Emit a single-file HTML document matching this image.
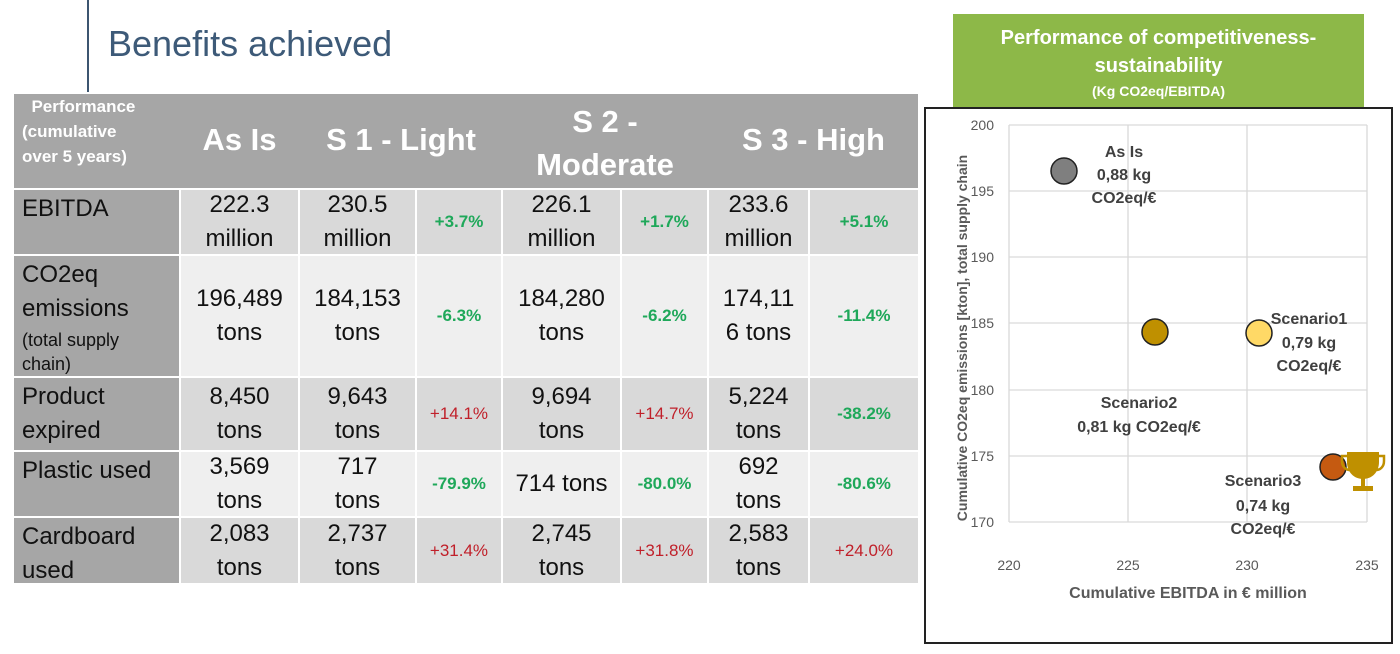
<!DOCTYPE html>
<html><head><meta charset="utf-8"><style>
body{margin:0;width:1400px;height:654px;background:#fff;position:relative;overflow:hidden;font-family:"Liberation Sans",Arial,sans-serif}
.a{position:absolute}
#grid{position:absolute;left:14px;top:190px;display:grid;grid-template-columns:165px 117px 115px 84px 117px 85px 99px 108px;grid-template-rows:64px 120px 72px 64px 65px;gap:2px;background:#fff}
#grid div{display:flex;align-items:center;justify-content:center;text-align:center;font-size:24px;line-height:34px;color:#111}
#grid div.l{display:block;background:#a6a6a6;text-align:left;padding:2px 0 0 8px}
.d{background:#d9d9d9}.e{background:#efefef}
#grid .g{color:#1fa85a;font-weight:bold;font-size:17px}
#grid .r{color:#c0202a;font-size:17px}
.h{color:#fff;font-weight:bold;font-size:31px;text-align:center}
</style></head><body>
<div class="a" style="left:87px;top:0;width:2px;height:92px;background:#3c5570"></div>
<div class="a" style="left:108px;top:23px;font-size:36px;color:#3d5a78">Benefits achieved</div>
<div class="a" style="left:14px;top:94px;width:904px;height:94px;background:#a6a6a6"></div>
<div class="a" style="left:22px;top:94px;color:#fff;font-weight:bold;font-size:17px;line-height:25px">&nbsp;&nbsp;Performance<br>(cumulative<br>over 5 years)</div>
<div class="a h" style="left:181px;top:122px;width:117px">As Is</div>
<div class="a h" style="left:300px;top:122px;width:202px">S 1 - Light</div>
<div class="a h" style="left:503px;top:100px;width:204px;line-height:43px">S 2 -<br>Moderate</div>
<div class="a h" style="left:709px;top:122px;width:209px">S 3 - High</div>
<div id="grid">
<div class="l">EBITDA</div><div class="d">222.3<br>million</div><div class="d">230.5<br>million</div><div class="d g">+3.7%</div><div class="d">226.1<br>million</div><div class="d g">+1.7%</div><div class="d">233.6<br>million</div><div class="d g">+5.1%</div>
<div class="l">CO2eq<br>emissions<span style="display:block;font-size:18px;line-height:24px;margin-top:2px">(total supply<br>chain)</span></div><div class="e">196,489<br>tons</div><div class="e">184,153<br>tons</div><div class="e g">-6.3%</div><div class="e">184,280<br>tons</div><div class="e g">-6.2%</div><div class="e">174,11<br>6 tons</div><div class="e g">-11.4%</div>
<div class="l">Product<br>expired</div><div class="d">8,450<br>tons</div><div class="d">9,643<br>tons</div><div class="d r">+14.1%</div><div class="d">9,694<br>tons</div><div class="d r">+14.7%</div><div class="d">5,224<br>tons</div><div class="d g">-38.2%</div>
<div class="l">Plastic used</div><div class="e">3,569<br>tons</div><div class="e">717<br>tons</div><div class="e g">-79.9%</div><div class="e">714 tons</div><div class="e g">-80.0%</div><div class="e">692<br>tons</div><div class="e g">-80.6%</div>
<div class="l">Cardboard<br>used</div><div class="d">2,083<br>tons</div><div class="d">2,737<br>tons</div><div class="d r">+31.4%</div><div class="d">2,745<br>tons</div><div class="d r">+31.8%</div><div class="d">2,583<br>tons</div><div class="d r">+24.0%</div>
</div>
<div class="a" style="left:953px;top:14px;width:411px;height:93px;background:#8db848;color:#fff;font-weight:bold;text-align:center">
<div style="font-size:20px;line-height:28px;margin-top:10px">Performance of competitiveness-<br>sustainability</div>
<div style="font-size:14px;margin-top:3px">(Kg CO2eq/EBITDA)</div></div>
<svg class="a" style="left:0;top:0" width="1400" height="654" font-family="Liberation Sans,Arial,sans-serif">
<rect x="925" y="108" width="467" height="535" fill="none" stroke="#222" stroke-width="2"/>
<g stroke="#d9d9d9" stroke-width="1.3">
<line x1="1009" y1="125" x2="1367" y2="125"/><line x1="1009" y1="191" x2="1367" y2="191"/><line x1="1009" y1="257" x2="1367" y2="257"/><line x1="1009" y1="323" x2="1367" y2="323"/><line x1="1009" y1="390" x2="1367" y2="390"/><line x1="1009" y1="456" x2="1367" y2="456"/><line x1="1009" y1="522" x2="1367" y2="522"/>
<line x1="1009" y1="125" x2="1009" y2="522"/><line x1="1128" y1="125" x2="1128" y2="522"/><line x1="1247" y1="125" x2="1247" y2="522"/><line x1="1367" y1="125" x2="1367" y2="522"/></g>
<g fill="#595959" font-size="14" text-anchor="end">
<text x="994" y="130">200</text><text x="994" y="196">195</text><text x="994" y="262">190</text><text x="994" y="328">185</text><text x="994" y="395">180</text><text x="994" y="461">175</text><text x="994" y="527">170</text></g>
<g fill="#595959" font-size="14" text-anchor="middle">
<text x="1009" y="570">220</text><text x="1128" y="570">225</text><text x="1247" y="570">230</text><text x="1367" y="570">235</text></g>
<text x="1188" y="598" fill="#595959" font-size="16" font-weight="bold" text-anchor="middle">Cumulative EBITDA in € million</text>
<text transform="translate(967,338) rotate(-90)" fill="#595959" font-size="14" font-weight="bold" text-anchor="middle">Cumulative CO2eq emissions [kton], total supply chain</text>
<g stroke="#222" stroke-width="1.5">
<circle cx="1064" cy="171" r="13" fill="#7f7f7f"/><circle cx="1155" cy="332" r="13" fill="#bf9000"/><circle cx="1259" cy="333" r="13" fill="#ffd966"/><circle cx="1333" cy="467" r="13" fill="#c55a11"/></g>
<g fill="#404040" font-size="16" font-weight="bold" text-anchor="middle">
<text x="1124" y="157">As Is</text><text x="1124" y="180">0,88 kg</text><text x="1124" y="203">CO2eq/€</text>
<text x="1309" y="324">Scenario1</text><text x="1309" y="348">0,79 kg</text><text x="1309" y="371">CO2eq/€</text>
<text x="1139" y="408">Scenario2</text><text x="1139" y="432">0,81 kg CO2eq/€</text>
<text x="1263" y="486">Scenario3</text><text x="1263" y="511">0,74 kg</text><text x="1263" y="534">CO2eq/€</text></g>
<g fill="#bf9000"><path d="M1347 452h32v10c0 10-7 17-16 17s-16-7-16-17z"/><path d="M1347 456h-5v5c0 6 4 9 8 9M1379 456h5v5c0 6-4 9-8 9" fill="none" stroke="#bf9000" stroke-width="2.5"/><rect x="1361" y="478" width="4" height="9"/><rect x="1353" y="486" width="20" height="5"/></g>
</svg>
</body></html>
